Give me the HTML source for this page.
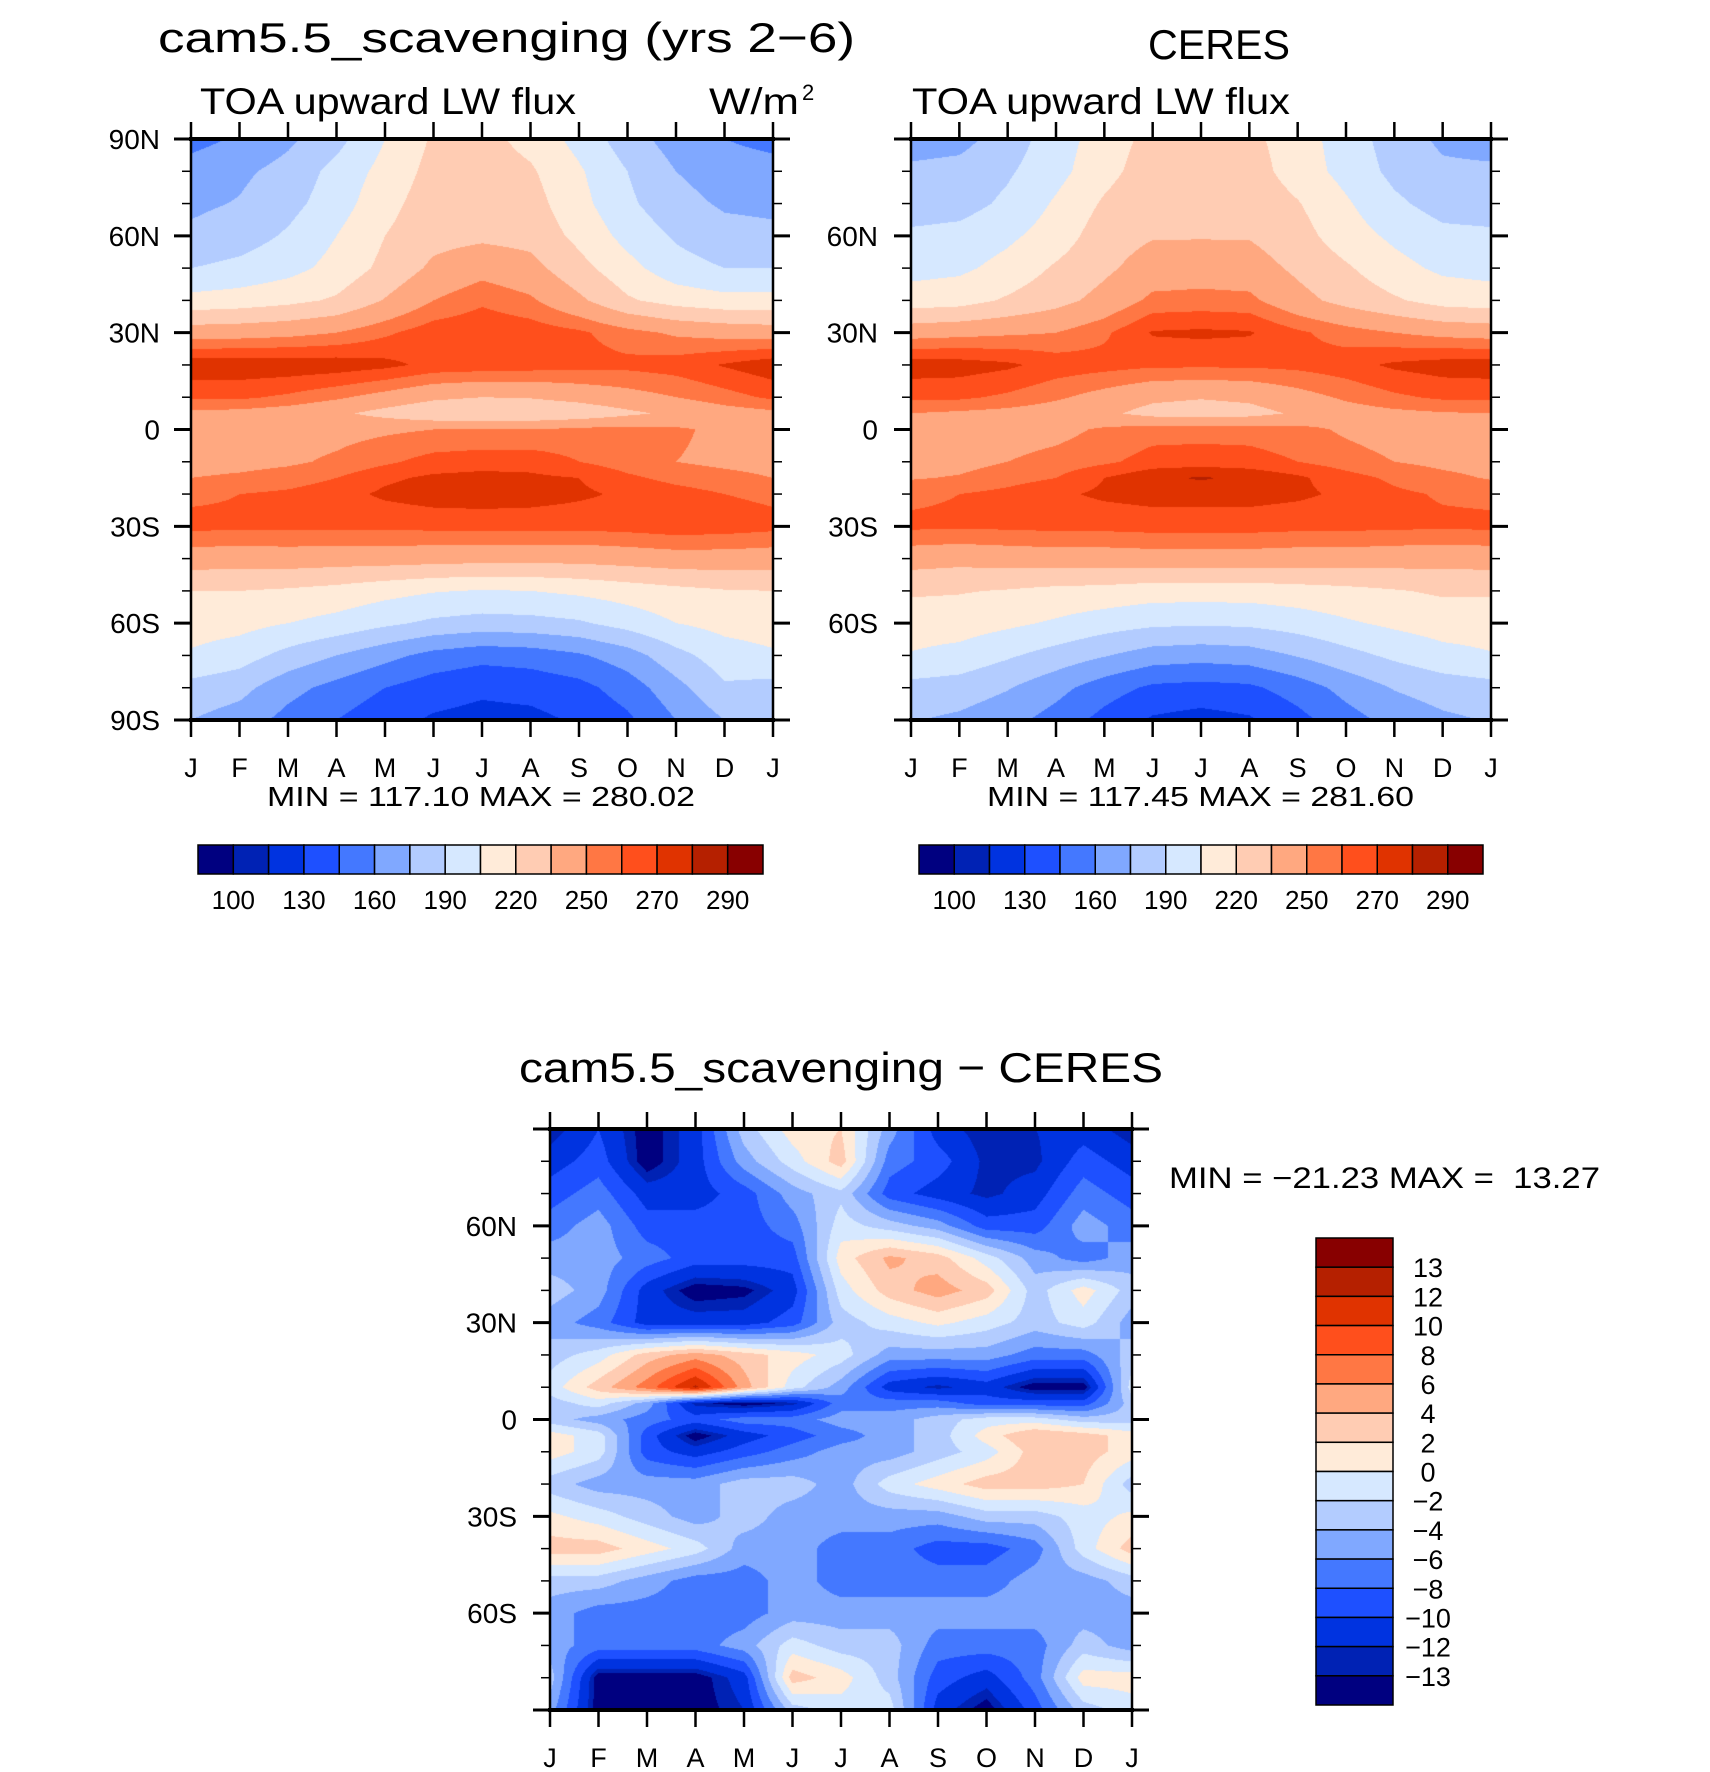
<!DOCTYPE html>
<html><head><meta charset="utf-8">
<style>
html,body{margin:0;padding:0;background:#fff;}
#wrap{position:relative;width:1710px;height:1772px;overflow:hidden;background:#fff;}
canvas{position:absolute;}
svg{position:absolute;left:0;top:0;}
text{font-family:"Liberation Sans",sans-serif;fill:#000;}
</style></head>
<body>
<div id="wrap">
<canvas id="cModel" width="582" height="581" style="left:191px;top:139px"></canvas>
<canvas id="cCeres" width="580" height="581" style="left:911px;top:139px"></canvas>
<canvas id="cDiff" width="582" height="581" style="left:550px;top:1129px"></canvas>
<svg id="ov" width="1710" height="1772" viewBox="0 0 1710 1772">
<text x="158" y="52" font-size="42" textLength="697" lengthAdjust="spacingAndGlyphs">cam5.5_scavenging (yrs 2−6)</text>
<text x="1148" y="59" font-size="42" textLength="142" lengthAdjust="spacingAndGlyphs">CERES</text>
<text x="200" y="114" font-size="37" textLength="376" lengthAdjust="spacingAndGlyphs">TOA upward LW flux</text>
<text x="709" y="114" font-size="37" textLength="90" lengthAdjust="spacingAndGlyphs">W/m</text>
<text x="802" y="100" font-size="22">2</text>
<text x="912" y="114" font-size="37" textLength="378" lengthAdjust="spacingAndGlyphs">TOA upward LW flux</text>
<text x="267" y="806" font-size="28" textLength="428" lengthAdjust="spacingAndGlyphs">MIN = 117.10 MAX = 280.02</text>
<text x="987" y="806" font-size="28" textLength="427" lengthAdjust="spacingAndGlyphs">MIN = 117.45 MAX = 281.60</text>
<text x="519" y="1082" font-size="42" textLength="644" lengthAdjust="spacingAndGlyphs">cam5.5_scavenging − CERES</text>
<text x="1169" y="1188" font-size="30" textLength="431" lengthAdjust="spacingAndGlyphs" xml:space="preserve">MIN = −21.23 MAX =  13.27</text>
</svg>
</div>
<script>
const months=['J','F','M','A','M','J','J','A','S','O','N','D','J'];
const palette=['#000080','#0022b4','#0033e0','#1e50ff','#4478ff','#80a8ff','#b3ccff','#d6e8ff','#ffebd9','#ffccb3','#ffa880','#ff7744','#ff4f1c','#e03300','#b52000','#880000'];
const fluxLevels=[100,115,130,145,160,175,190,205,220,235,250,260,270,280,290];
const fluxLabels=['100','130','160','190','220','250','270','290'];
const diffLevels=[-13,-12,-10,-8,-6,-4,-2,0,2,4,6,8,10,12,13];
const diffLabels=['−13','−12','−10','−8','−6','−4','−2','0','2','4','6','8','10','12','13'];
const latLabelsFull=[[90,'90N'],[60,'60N'],[30,'30N'],[0,'0'],[-30,'30S'],[-60,'60S'],[-90,'90S']];
const latLabelsInner=[[60,'60N'],[30,'30N'],[0,'0'],[-30,'30S'],[-60,'60S']];

const modelLats=[90,80,70,60,50,40,30,20,10,5,0,-10,-15,-20,-30,-40,-50,-60,-70,-80,-90];
const modelValues=[
[155,162,172,185,205,222,225,215,200,182,168,160,155],
[166,172,180,195,210,225,228,222,207,190,175,168,166],
[172,176,185,198,215,228,230,226,210,193,180,173,172],
[178,183,192,205,220,230,232,230,216,200,188,180,178],
[190,194,200,210,224,238,245,240,225,210,196,190,190],
[210,212,216,222,236,250,258,252,238,222,214,210,210],
[243,244,246,250,258,266,268,266,262,254,248,245,243],
[277,277,277,276,273,267,266,265,264,263,265,271,277],
[262,262,258,252,245,238,235,236,240,245,250,256,262],
[247,246,243,238,230,223,220,222,225,232,238,244,247],
[245,245,245,246,248,250,250,250,253,254,252,247,245],
[245,246,248,252,258,264,266,266,260,255,250,247,245],
[250,252,255,260,268,272,273,272,270,262,257,254,250],
[258,260,262,266,272,275,276,275,272,268,264,260,258],
[263,262,262,262,262,263,263,263,263,264,266,265,263],
[243,242,243,242,242,241,240,240,240,242,244,244,243],
[220,220,218,215,210,206,204,205,208,212,216,219,220],
[212,210,205,200,193,187,184,185,188,196,205,210,212],
[203,197,185,175,165,155,150,152,158,168,185,198,203],
[185,180,165,155,145,137,133,135,140,152,170,188,185],
[175,168,155,145,135,128,125,126,132,142,160,175,175]];

const ceresLats=[90,80,70,60,50,40,30,20,10,5,0,-10,-15,-20,-30,-40,-50,-60,-70,-80,-90];
const ceresValues=[
[168,170,182,198,212,225,228,224,212,198,183,172,168],
[178,180,188,200,215,228,230,227,213,200,186,178,178],
[182,184,193,207,222,232,233,231,221,207,193,184,182],
[193,195,202,212,228,234,234,234,226,212,202,194,193],
[200,202,210,222,232,242,243,242,232,222,210,202,200],
[212,214,222,230,240,253,254,253,240,230,222,214,212],
[244,246,248,250,258,271,272,271,262,255,250,246,244],
[276,275,272,266,264,262,262,262,263,266,272,275,276],
[262,262,258,252,245,238,236,238,245,252,258,262,262],
[250,248,246,243,238,230,228,230,237,244,247,249,250],
[243,243,244,246,252,256,256,256,254,248,244,243,243],
[245,246,250,254,258,264,265,264,260,255,250,247,245],
[249,251,256,260,270,278,281,278,272,264,258,253,249],
[258,260,263,268,272,274,274,274,272,268,262,259,258],
[262,262,262,263,263,264,264,264,263,263,262,262,262],
[242,240,242,243,243,244,244,244,243,243,242,241,242],
[222,221,219,216,215,212,212,212,214,216,219,222,222],
[212,212,208,203,197,193,192,193,197,203,208,212,212],
[204,200,192,184,176,168,166,168,176,185,193,200,204],
[185,183,176,165,152,142,140,142,152,165,176,182,185],
[176,172,165,154,140,128,124,128,140,154,165,172,176]];

const diffLats=[90,80,70,60,50,40,30,20,10,5,0,-5,-10,-20,-30,-40,-50,-60,-70,-80,-90];
const diffValues=[
[-13,-10,-14,-11,-3,1,2,-5,-11,-13,-12,-11,-13],
[-11,-9,-14,-11,-5,-1,3,-7,-9,-12.5,-12.5,-9,-11],
[-9,-7,-11,-11,-9,-5,-2.5,-9,-11,-12.5,-11,-7,-9],
[-7,-5,-9,-9,-9,-7,-1,-3,-5,-9,-9,-5,-7],
[-5,-5,-7,-9,-9,-9,1,4.5,3,-1,-5,-7,-5],
[-3,-5,-11,-14,-13.5,-11,-1,3,5,3,-3,1,-3],
[-5,-7,-11,-11,-11,-9,-3,-1,0.5,-1,-3,-1,-5],
[-3,-1,3,5,3,1,-1,-5,-5,-5,-7,-7,-3],
[-1,3,7,12.5,5,-1,-5,-11,-12.5,-11,-14,-14,-1],
[-3,-1,-5,-12.5,-14,-12.5,-7,-7,-7,-9,-9,-9,-3],
[-3,-5,-7,-9,-7,-7,-5,-5,-3,-1,-1,-3,-3],
[1,-1,-9,-14,-11,-9,-7,-5,-3,1,4,3,1],
[1,-1,-9,-11,-9,-7,-5,-5,-3,-1,3,3,1],
[-3,-5,-5,-5,-3,-3,-5,-1,1,3,3,2,-3],
[0.5,-1,-3,-5,-3,-5,-5,-5,-5,-3,-3,-1,0.5],
[3,3,1,-1,-5,-5,-7,-7,-9,-9,-7,-1,3],
[-3,-3,-5,-7,-7,-5,-7,-7,-7,-7,-5,-5,-3],
[-5,-7,-7,-7,-7,-5,-5,-5,-5,-5,-5,-5,-5],
[-5,-7,-7,-7,-5,-1,-3,-3,-7,-7,-7,-3,-5],
[-3,-14,-14,-14,-11,3,1,-3,-9,-11,-7,1,1],
[-5,-14,-14,-14,-12,-3,-1,-1,-11,-14,-9,-3,-1]];

const NS='http://www.w3.org/2000/svg';
const ov=document.getElementById('ov');
function mk(tag,attrs){const e=document.createElementNS(NS,tag);for(const k in attrs)e.setAttribute(k,attrs[k]);ov.appendChild(e);return e;}
function hex(c){return [parseInt(c.substr(1,2),16),parseInt(c.substr(3,2),16),parseInt(c.substr(5,2),16)];}
const rgb=palette.map(hex);

function interp(lats,vals,lat,m){
  let k=0;while(k<lats.length-2&&lat<lats[k+1])k++;
  let t=(lats[k]-lat)/(lats[k]-lats[k+1]);t=Math.max(0,Math.min(1,t));
  let c=Math.floor(m);if(c>11)c=11;if(c<0)c=0;const u=Math.max(0,Math.min(1,m-c));
  const a=vals[k][c]*(1-u)+vals[k][c+1]*u;
  const b=vals[k+1][c]*(1-u)+vals[k+1][c+1]*u;
  return a*(1-t)+b*t;
}
function levelIdx(levels,v){let i=0;while(i<levels.length&&v>=levels[i])i++;return i;}

function drawField(id,lats,vals,levels){
  const cv=document.getElementById(id),ctx=cv.getContext('2d');
  const w=cv.width,h=cv.height,img=ctx.createImageData(w,h);
  for(let j=0;j<h;j++){const lat=90-(j+0.5)/h*180;
    for(let i=0;i<w;i++){const m=(i+0.5)/w*12;
      const c=rgb[levelIdx(levels,interp(lats,vals,lat,m))];
      const p=(j*w+i)*4;img.data[p]=c[0];img.data[p+1]=c[1];img.data[p+2]=c[2];img.data[p+3]=255;}}
  ctx.putImageData(img,0,0);
}

function drawAxes(x0,y0,w,h,latLabels,labelRight,monthBase,prefix){
  const xs=i=>x0+i*w/12, ys=lat=>y0+(90-lat)*h/180;
  const frame=mk('rect',{x:x0,y:y0,width:w,height:h,fill:'none',stroke:'#000','stroke-width':2.5});
  
  
  for(const yy of [y0,y0+h]){const l=mk('line',{x1:x0-2,x2:x0+w+2,y1:yy,y2:yy,stroke:'#000','stroke-width':4});
    
    }
  months.forEach((mo,i)=>{
    const x=xs(i);
    const t1=mk('line',{x1:x,x2:x,y1:y0-17,y2:y0,stroke:'#000','stroke-width':2.5});
    
    
    const t2=mk('line',{x1:x,x2:x,y1:y0+h,y2:y0+h+17,stroke:'#000','stroke-width':2.5});
    
    
    const tx=mk('text',{x:x,y:monthBase,'font-size':27,'text-anchor':'middle'});tx.textContent=mo;
    
    
  });
  for(let lat=90;lat>=-90;lat-=10){
    const y=ys(lat),major=(lat%30===0),len=major?17:9;
    const a=mk('line',{x1:x0-len,x2:x0,y1:y,y2:y,stroke:'#000','stroke-width':major?3:1.5});
    
    
    const b=mk('line',{x1:x0+w,x2:x0+w+len,y1:y,y2:y,stroke:'#000','stroke-width':major?3:1.5});
    
    
  }
  latLabels.forEach(([lat,lab])=>{
    const t=mk('text',{x:labelRight,y:ys(lat)+10,'font-size':28,'text-anchor':'end'});t.textContent=lab;
    
    
  });
}

function hColorbar(x0,y0,w,h,prefix){
  const bw=w/16;
  palette.forEach((c,i)=>{const r=mk('rect',{x:x0+i*bw,y:y0,width:bw,height:h,fill:c,stroke:'#000','stroke-width':1.5});
    
    });
  fluxLabels.forEach((lab,k)=>{const t=mk('text',{x:x0+(2*k+1)*bw,y:y0+64,'font-size':26,'text-anchor':'middle'});t.textContent=lab;
    
    });
}
function vColorbar(x0,y0,w,h){
  const bh=h/16;
  palette.slice().reverse().forEach((c,i)=>{const r=mk('rect',{x:x0,y:y0+i*bh,width:w,height:bh,fill:c,stroke:'#000','stroke-width':1.5});
    
    });
  diffLabels.slice().reverse().forEach((lab,k)=>{const t=mk('text',{x:1428,y:y0+(k+1)*bh+10,'font-size':27,'text-anchor':'middle'});t.textContent=lab;
    
    });
}

drawField('cModel',modelLats,modelValues,fluxLevels);
drawField('cCeres',ceresLats,ceresValues,fluxLevels);
drawField('cDiff',diffLats,diffValues,diffLevels);
drawAxes(191,139,582,581,latLabelsFull,160,777,'model');
drawAxes(911,139,580,581,latLabelsInner,878,777,'ceres');
drawAxes(550,1129,582,581,latLabelsInner,517,1767,'difference');
hColorbar(198,845,565,29,'model');
hColorbar(919,845,564,29,'ceres');
vColorbar(1316,1238,77,467);
</script>
</body></html>
